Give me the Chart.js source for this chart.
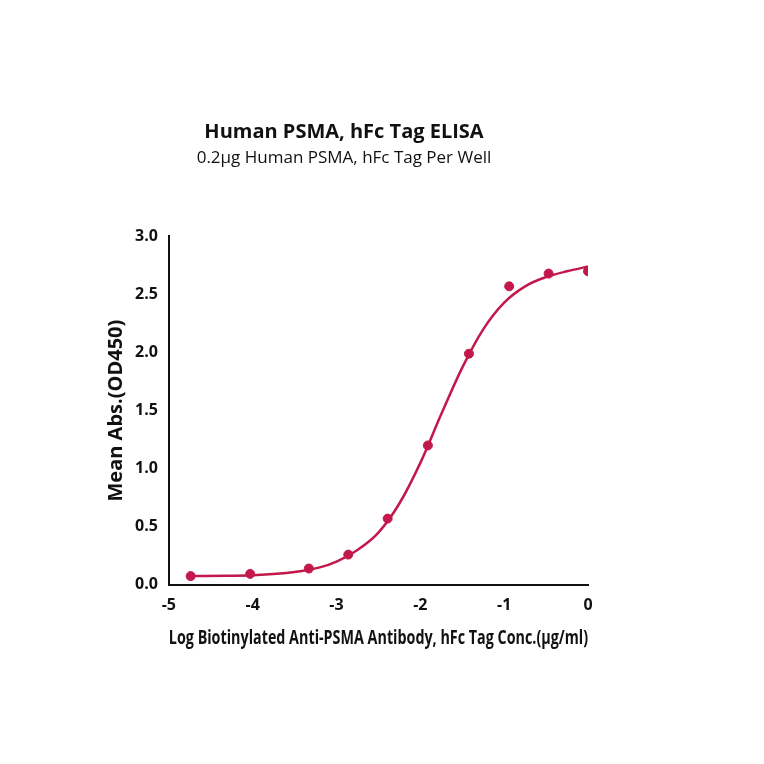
<!DOCTYPE html><html><head><script src="https://cdn.jsdelivr.net/npm/chart.js@4"></script>
<style>body{margin:0;background:#fff}</style></head><body><canvas id="c" width="764" height="764"></canvas><script>
const pointX=[-4.74,-4.03,-3.33,-2.86,-2.39,-1.91,-1.42,-0.94,-0.47,0];
const pointY=[0.075,0.094,0.14,0.26,0.57,1.20,1.99,2.57,2.68,2.70];
const curveX=[-4.74,-4.3,-4,-3.5,-3.2,-3,-2.75,-2.5,-2.25,-2,-1.75,-1.5,-1.25,-1,-0.75,-0.5,-0.25,0];
const curveY=[0.075,0.078,0.082,0.11,0.15,0.2,0.3,0.45,0.7,1.05,1.47,1.87,2.2,2.43,2.57,2.65,2.7,2.74];
const xTicks=[-5,-4,-3,-2,-1,0];
const col='#c2184c';
const F="'Open Sans',sans-serif";
new Chart(document.getElementById('c'),{type:'scatter',
data:{datasets:[
{data:curveX.map((x,i)=>({x,y:curveY[i]})),showLine:true,borderColor:col,borderWidth:2.5,pointRadius:0,tension:0.4,cubicInterpolationMode:'monotone'},
{data:pointX.map((x,i)=>({x,y:pointY[i]})),backgroundColor:col,borderColor:col,pointRadius:4.5}]},
options:{animation:false,responsive:false,devicePixelRatio:1,
layout:{padding:{left:100,right:176,top:0,bottom:110}},
plugins:{legend:{display:false},tooltip:{enabled:false},
title:{display:true,text:'Human PSMA, hFc Tag ELISA',font:{family:F,size:20,weight:'bold'},color:'#111',padding:{top:120,bottom:4}},
subtitle:{display:true,text:'0.2µg Human PSMA, hFc Tag Per Well',font:{family:F,size:17},color:'#111',padding:{bottom:68}}},
scales:{
x:{type:'linear',min:-5,max:0,afterBuildTicks:a=>{a.ticks=xTicks.map(v=>({value:v}))},
grid:{display:false,drawTicks:true,tickLength:8,tickColor:'#111',tickWidth:2},border:{color:'#111',width:2},
ticks:{font:{family:F,size:16,weight:'bold'},color:'#111'},
title:{display:true,text:'Log Biotinylated Anti-PSMA Antibody, hFc Tag Conc.(µg/ml)',font:{family:F,size:20,weight:'bold'},color:'#111',padding:{top:8}}},
y:{min:0,max:3,ticks:{stepSize:0.5,callback:v=>v.toFixed(1),font:{family:F,size:16,weight:'bold'},color:'#111'},
grid:{display:false,drawTicks:true,tickLength:8,tickColor:'#111',tickWidth:2},border:{color:'#111',width:2},
title:{display:true,text:'Mean Abs.(OD450)',font:{family:F,size:20,weight:'bold'},color:'#111'}}}}});
</script></body></html>
